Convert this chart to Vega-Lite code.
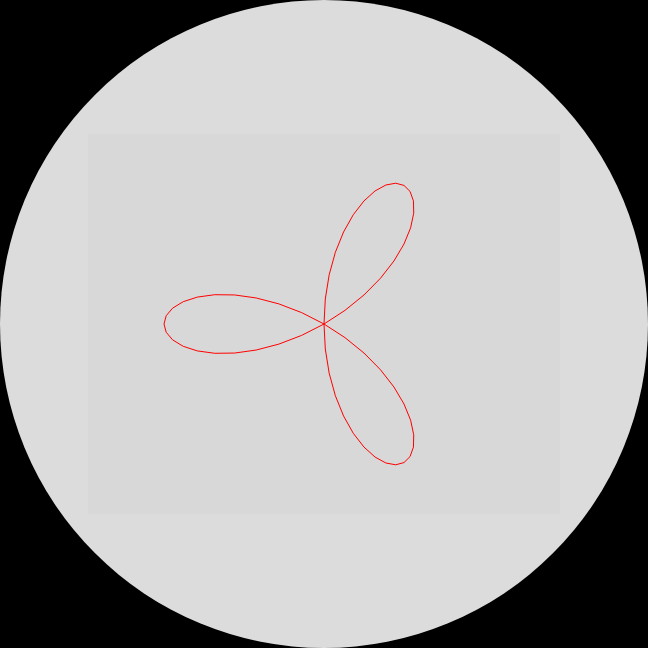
{
  "$schema": "https://vega.github.io/schema/vega-lite/v6.json",
  "width": 472,
  "height": 380,
  "autosize": {"type": "none"},
  "padding": {"left": 88, "top": 134, "right": 88, "bottom": 134},
  "background": "#000000",
  "view": {"stroke": null},
  "config": {"axis": {"domain": false}},
  "datasets": {
    "rose": [
      {"t": 0, "x": -1, "y": 0},
      {"t": 3, "x": -0.98634, "y": -0.0517},
      {"t": 6, "x": -0.94585, "y": -0.09941},
      {"t": 9, "x": -0.88004, "y": -0.13938},
      {"t": 12, "x": -0.79134, "y": -0.1682},
      {"t": 15, "x": -0.68302, "y": -0.18301},
      {"t": 18, "x": -0.55902, "y": -0.18164},
      {"t": 21, "x": -0.42384, "y": -0.1627},
      {"t": 24, "x": -0.28231, "y": -0.12569},
      {"t": 27, "x": -0.13938, "y": -0.07102},
      {"t": 30, "x": 0, "y": 0},
      {"t": 33, "x": 0.13119, "y": 0.0852},
      {"t": 36, "x": 0.25, "y": 0.18164},
      {"t": 39, "x": 0.35282, "y": 0.2857},
      {"t": 42, "x": 0.43681, "y": 0.39331},
      {"t": 45, "x": 0.5, "y": 0.5},
      {"t": 48, "x": 0.54134, "y": 0.60122},
      {"t": 51, "x": 0.56073, "y": 0.69245},
      {"t": 54, "x": 0.55902, "y": 0.76943},
      {"t": 57, "x": 0.53794, "y": 0.82835},
      {"t": 60, "x": 0.5, "y": 0.86603},
      {"t": 63, "x": 0.4484, "y": 0.88004},
      {"t": 66, "x": 0.38683, "y": 0.86884},
      {"t": 69, "x": 0.31931, "y": 0.83183},
      {"t": 72, "x": 0.25, "y": 0.76943},
      {"t": 75, "x": 0.18301, "y": 0.68302},
      {"t": 78, "x": 0.12221, "y": 0.57495},
      {"t": 81, "x": 0.07102, "y": 0.4484},
      {"t": 84, "x": 0.0323, "y": 0.30733},
      {"t": 87, "x": 0.00819, "y": 0.15622},
      {"t": 90, "x": 0, "y": 0},
      {"t": 93, "x": 0.00819, "y": -0.15622},
      {"t": 96, "x": 0.0323, "y": -0.30733},
      {"t": 99, "x": 0.07102, "y": -0.4484},
      {"t": 102, "x": 0.12221, "y": -0.57495},
      {"t": 105, "x": 0.18301, "y": -0.68302},
      {"t": 108, "x": 0.25, "y": -0.76943},
      {"t": 111, "x": 0.31931, "y": -0.83183},
      {"t": 114, "x": 0.38683, "y": -0.86884},
      {"t": 117, "x": 0.4484, "y": -0.88004},
      {"t": 120, "x": 0.5, "y": -0.86603},
      {"t": 123, "x": 0.53794, "y": -0.82835},
      {"t": 126, "x": 0.55902, "y": -0.76943},
      {"t": 129, "x": 0.56073, "y": -0.69245},
      {"t": 132, "x": 0.54134, "y": -0.60122},
      {"t": 135, "x": 0.5, "y": -0.5},
      {"t": 138, "x": 0.43681, "y": -0.39331},
      {"t": 141, "x": 0.35282, "y": -0.2857},
      {"t": 144, "x": 0.25, "y": -0.18164},
      {"t": 147, "x": 0.13119, "y": -0.0852},
      {"t": 150, "x": 0, "y": 0},
      {"t": 153, "x": -0.13938, "y": 0.07102},
      {"t": 156, "x": -0.28231, "y": 0.12569},
      {"t": 159, "x": -0.42384, "y": 0.1627},
      {"t": 162, "x": -0.55902, "y": 0.18164},
      {"t": 165, "x": -0.68302, "y": 0.18301},
      {"t": 168, "x": -0.79134, "y": 0.1682},
      {"t": 171, "x": -0.88004, "y": 0.13938},
      {"t": 174, "x": -0.94585, "y": 0.09941},
      {"t": 177, "x": -0.98634, "y": 0.0517},
      {"t": 180, "x": -1, "y": 0}
    ],
    "centre": [{"x": 0, "y": 0}]
  },
  "layer": [
    {
      "data": {"name": "centre"},
      "mark": {"type": "point", "shape": "circle", "filled": true, "opacity": 1, "size": 419904, "color": "#dcdcdc", "clip": false},
      "encoding": {
        "x": {"field": "x", "type": "quantitative", "scale": {"domain": [-1.475, 1.475], "nice": false, "zero": false}, "axis": null},
        "y": {"field": "y", "type": "quantitative", "scale": {"domain": [-1.1875, 1.1875], "nice": false, "zero": false}, "axis": null}
      }
    },
    {
      "data": {"name": "centre"},
      "mark": {"type": "rect", "color": "#d8d8d8"},
      "encoding": {
        "x": {"value": 0},
        "x2": {"value": "width"},
        "y": {"value": 0},
        "y2": {"value": "height"}
      }
    },
    {
      "data": {"name": "rose"},
      "mark": {"type": "line", "color": "#ff0000", "strokeWidth": 1, "interpolate": "linear"},
      "encoding": {
        "x": {"field": "x", "type": "quantitative", "scale": {"domain": [-1.475, 1.475], "nice": false, "zero": false}, "axis": null},
        "y": {"field": "y", "type": "quantitative", "scale": {"domain": [-1.1875, 1.1875], "nice": false, "zero": false}, "axis": null},
        "order": {"field": "t", "type": "quantitative"}
      }
    }
  ]
}
